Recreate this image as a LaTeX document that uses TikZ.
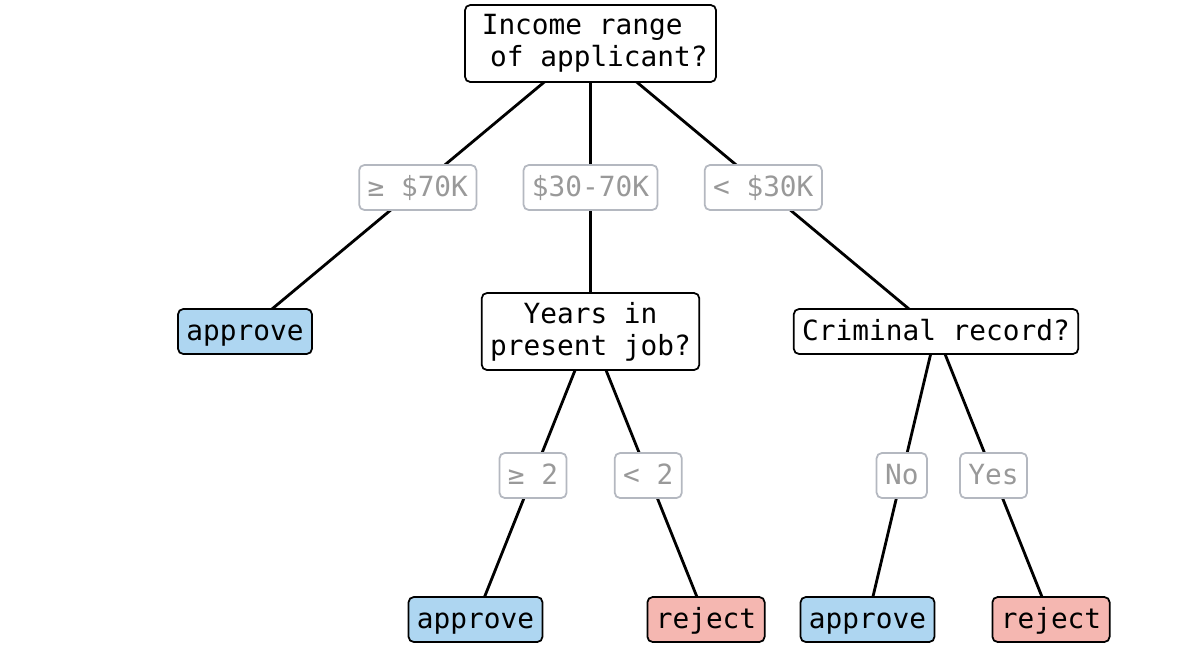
\documentclass[tikz,border=0pt]{standalone}
\usepackage{fontspec}
\setmainfont{DejaVu Sans Mono}
\usetikzlibrary{calc,backgrounds}
\definecolor{appblue}{HTML}{AED6F1}
\definecolor{rejred}{HTML}{F5B7B1}
\definecolor{lblborder}{HTML}{B4B8C0}
\definecolor{lbltext}{HTML}{999999}
\tikzset{
  box/.style={draw=black, line width=0.5pt, rounded corners=1.5pt, fill=white,
    font=\fontsize{7.9pt}{9.1pt}\selectfont, inner xsep=2.4pt, inner ysep=0pt,
    minimum height=12.8pt, align=center},
  one/.style={box, text height=6.3pt, text depth=1.3pt},
  tall/.style={box, minimum height=21.9pt},
  app/.style={one, fill=appblue},
  rej/.style={one, fill=rejred},
  lbl/.style={one, draw=lblborder, text=lbltext},
  edge/.style={line width=0.8pt, black}
}
\begin{document}
\begin{tikzpicture}[x=0.01cm, y=-0.01cm]
\useasboundingbox (0,0) rectangle (1180,648);
\node[tall] (root) at (590.5,43.5) {Income range\hphantom{x}\\\hphantom{x}of applicant?};
\node[app] (a1) at (245,331.5) {approve};
\node[tall] (years) at (590.5,331.5) {Years in\\present job?};
\node[one] (crim) at (936,331.5) {Criminal record?};
\node[app] (a2) at (475.5,619.5) {approve};
\node[rej] (r1) at (706,619.5) {reject};
\node[app] (a3) at (867.5,619.5) {approve};
\node[rej] (r2) at (1051,619.5) {reject};
\node[lbl] (l1) at ($(root)!0.5!(a1)$) {≥ \$70K};
\node[lbl] (l2) at ($(root)!0.5!(years)$) {\$30-70K};
\node[lbl] (l3) at ($(root)!0.5!(crim)$) {< \$30K};
\node[lbl] (l4) at ($(years)!0.5!(a2)$) {≥ 2};
\node[lbl] (l5) at ($(years)!0.5!(r1)$) {< 2};
\node[lbl] (l6) at ($(crim)!0.5!(a3)$) {No};
\node[lbl] (l7) at ($(crim)!0.5!(r2)$) {Yes};
\begin{pgfonlayer}{background}
\draw[edge] (root.center) -- (a1.center);
\draw[edge] (root.center) -- (years.center);
\draw[edge] (root.center) -- (crim.center);
\draw[edge] (years.center) -- (a2.center);
\draw[edge] (years.center) -- (r1.center);
\draw[edge] (crim.center) -- (a3.center);
\draw[edge] (crim.center) -- (r2.center);
\end{pgfonlayer}
\end{tikzpicture}
\end{document}
